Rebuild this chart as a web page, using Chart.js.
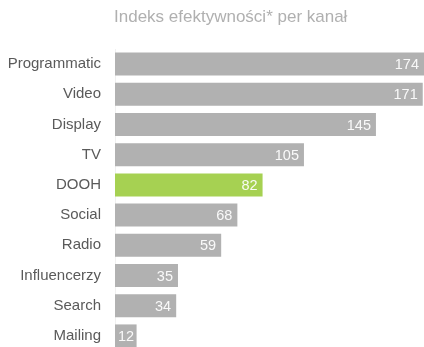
<!DOCTYPE html>
<html>
<head>
<meta charset="utf-8">
<script src="https://cdn.jsdelivr.net/npm/chart.js@4/dist/chart.umd.min.js"></script>
<style>
  html, body { margin: 0; padding: 0; background: #fff; overflow: hidden; }
  #wrap { position: relative; width: 424px; height: 347px; overflow: hidden; }
  #title {
    position: absolute; left: 114px; top: 7px;
    font: 17px "Liberation Sans", Arial, sans-serif; color: #b0b0b0;
  }
</style>
</head>
<body>
<div id="wrap">
  <div id="title">Indeks efektywności* per kanał</div>
  <canvas id="chart" width="424" height="374"></canvas>
</div>
<script>
const channels = ["Programmatic", "Video", "Display", "TV", "DOOH", "Social", "Radio", "Influencerzy", "Search", "Mailing"];
const indexValues = [174, 171, 145, 105, 82, 68, 59, 35, 34, 12];
const highlighted = "DOOH";

const GREY = "#b1b1b1";
const GREEN = "#a6d152";

// value labels drawn inside the end of each bar
const valueLabels = {
    id: "valueLabels",
    afterDatasetsDraw(chart) {
        const ctx = chart.ctx;
        const meta = chart.getDatasetMeta(0);
        ctx.save();
        ctx.font = '14.5px "Liberation Sans", Arial, sans-serif';
        ctx.fillStyle = "rgba(255,255,255,0.92)";
        ctx.textBaseline = "middle";
        ctx.textAlign = "right";
        meta.data.forEach((bar, i) => {
            const txt = String(indexValues[i]);
            const w = ctx.measureText(txt).width;
            let x = Math.min(bar.x, chart.chartArea.right) - 5;
            if (x - w < bar.base + 3)
                x = bar.base + 3 + w;
            ctx.fillText(txt, x, bar.y + 1);
        });
        ctx.restore();
    }
};

new Chart(document.getElementById("chart").getContext("2d"), {
    type: "bar",
    data: {
        labels: channels,
        datasets: [{
            data: indexValues,
            backgroundColor: channels.map(c => c === highlighted ? GREEN : GREY),
            borderWidth: 0,
            barPercentage: 0.76,
            categoryPercentage: 1
        }]
    },
    options: {
        indexAxis: "y",
        responsive: false,
        animation: false,
        layout: { padding: { top: 49, right: 0, bottom: 0, left: 0 } },
        plugins: {
            legend: { display: false },
            tooltip: { enabled: false }
        },
        scales: {
            x: {
                display: false,
                min: 0,
                max: 171.7
            },
            y: {
                grid: { display: false, drawTicks: false },
                border: { display: true, color: "#f0f0f0" },
                afterFit(scale) { scale.width = 115; },
                ticks: {
                    color: "#5a5a5a",
                    padding: 14,
                    font: { family: '"Liberation Sans", Arial, sans-serif', size: 15 }
                }
            }
        }
    },
    plugins: [valueLabels]
});
</script>
</body>
</html>
